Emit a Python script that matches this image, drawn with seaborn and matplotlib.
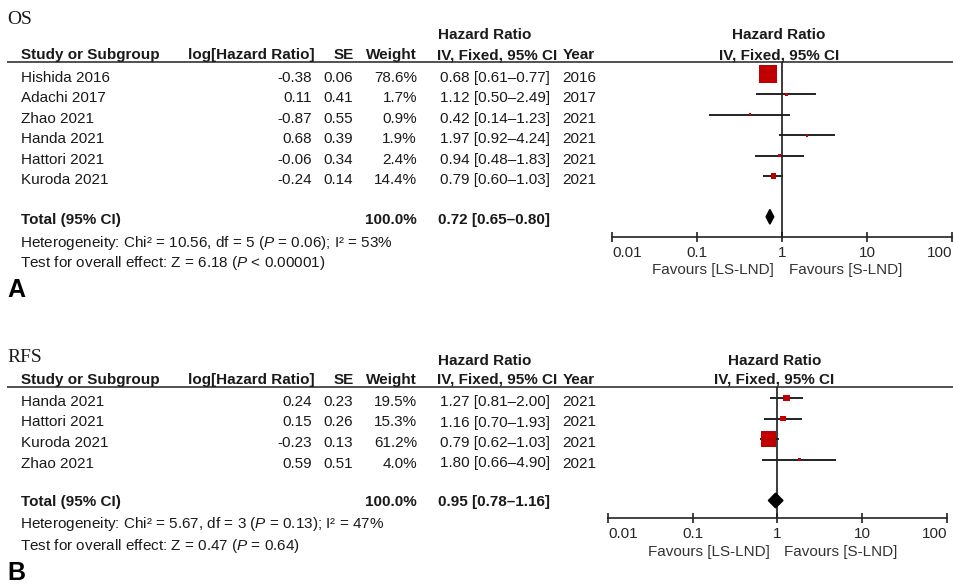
import numpy as np
import matplotlib
matplotlib.use('Agg')
import matplotlib.pyplot as plt
import seaborn as sns

# OS panel data
os_study = ['Hishida 2016', 'Adachi 2017', 'Zhao 2021', 'Handa 2021', 'Hattori 2021', 'Kuroda 2021']
os_loghr = [-0.38, 0.11, -0.87, 0.68, -0.06, -0.24]
os_se = [0.06, 0.41, 0.55, 0.39, 0.34, 0.14]
os_weight = [78.6, 1.7, 0.9, 1.9, 2.4, 14.4]
os_hr = [0.68, 1.12, 0.42, 1.97, 0.94, 0.79]
os_lo = [0.61, 0.50, 0.14, 0.92, 0.48, 0.60]
os_hi = [0.77, 2.49, 1.23, 4.24, 1.83, 1.03]
os_year = [2016, 2017, 2021, 2021, 2021, 2021]
os_total = [0.72, 0.65, 0.80]
os_total_weight = 100.0
os_het = r'Heterogeneity: Chi² = 10.56, df = 5 ($P$ = 0.06); I² = 53%'
os_test = r'Test for overall effect: Z = 6.18 ($P$ < 0.00001)'

# RFS panel data
rfs_study = ['Handa 2021', 'Hattori 2021', 'Kuroda 2021', 'Zhao 2021']
rfs_loghr = [0.24, 0.15, -0.23, 0.59]
rfs_se = [0.23, 0.26, 0.13, 0.51]
rfs_weight = [19.5, 15.3, 61.2, 4.0]
rfs_hr = [1.27, 1.16, 0.79, 1.80]
rfs_lo = [0.81, 0.70, 0.62, 0.66]
rfs_hi = [2.00, 1.93, 1.03, 4.90]
rfs_year = [2021, 2021, 2021, 2021]
rfs_total = [0.95, 0.78, 1.16]
rfs_total_weight = 100.0
rfs_het = r'Heterogeneity: Chi² = 5.67, df = 3 ($P$ = 0.13); I² = 47%'
rfs_test = r'Test for overall effect: Z = 0.47 ($P$ = 0.64)'

x_ticks = [0.01, 0.1, 1, 10, 100]
x_ticklabels = ['0.01', '0.1', '1', '10', '100']

sns.set_style('white')
plt.rcParams['font.family'] = ['Liberation Sans', 'DejaVu Sans']
plt.rcParams['mathtext.fontset'] = 'custom'
plt.rcParams['mathtext.rm'] = 'Liberation Sans'
plt.rcParams['mathtext.it'] = 'Liberation Sans:italic'

W, H = 954, 586
TXT = '#1a1a1a'
fig = plt.figure(figsize=(W / 100, H / 100), dpi=100)
canvas = fig.add_axes([0, 0, 1, 1])
canvas.set_xlim(0, W)
canvas.set_ylim(H, 0)
canvas.axis('off')


def draw_panel(title, letter, study, loghr, se, weight, hr, lo, hi, year,
               total, total_weight, het, test, lay):
    fs = 11
    # titles and headers
    canvas.text(7, lay['title'], title, family='Liberation Serif', fontsize=14,
                va='center', color=TXT)
    canvas.text(438, lay['h1'], 'Hazard Ratio', fontsize=fs, fontweight='bold',
                va='center', color=TXT)
    canvas.text(21, lay['h2'], 'Study or Subgroup', fontsize=fs, fontweight='bold', va='center', color=TXT)
    canvas.text(315, lay['h2'], 'log[Hazard Ratio]', fontsize=fs, fontweight='bold', va='center', ha='right', color=TXT)
    canvas.text(354, lay['h2'], 'SE', fontsize=fs, fontweight='bold', va='center', ha='right', color=TXT)
    canvas.text(417, lay['h2'], 'Weight', fontsize=fs, fontweight='bold', va='center', ha='right', color=TXT)
    canvas.text(437, lay['h2'], 'IV, Fixed, 95% CI', fontsize=fs, fontweight='bold', va='center', color=TXT)
    canvas.text(563, lay['h2'], 'Year', fontsize=fs, fontweight='bold', va='center', color=TXT)
    canvas.hlines(lay['line'], 7, W, color='#333333', lw=1.2)

    # study rows
    for i in range(len(study)):
        y = lay['row0'] + 4 + i * lay['step']
        canvas.text(21, y, study[i], fontsize=fs, va='center', color=TXT)
        canvas.text(312, y, f'{loghr[i]:.2f}', fontsize=fs, va='center', ha='right', color=TXT)
        canvas.text(353, y, f'{se[i]:.2f}', fontsize=fs, va='center', ha='right', color=TXT)
        canvas.text(417, y, f'{weight[i]:.1f}%', fontsize=fs, va='center', ha='right', color=TXT)
        canvas.text(440, y, f'{hr[i]:.2f} [{lo[i]:.2f}–{hi[i]:.2f}]', fontsize=fs, va='center', color=TXT)
        canvas.text(562, y, str(year[i]), fontsize=fs, va='center', color=TXT)

    # totals and tests
    canvas.text(21, lay['total'], 'Total (95% CI)', fontsize=fs, fontweight='bold', va='center', color=TXT)
    canvas.text(417, lay['total'], f'{total_weight:.1f}%', fontsize=fs, fontweight='bold', va='center',
                ha='right', color=TXT)
    canvas.text(438, lay['total'], f'{total[0]:.2f} [{total[1]:.2f}–{total[2]:.2f}]', fontsize=fs,
                fontweight='bold', va='center', color=TXT)
    canvas.text(20, lay['het'], het, fontsize=fs, va='center', color=TXT)
    canvas.text(20, lay['test'], test, fontsize=fs, va='center', color=TXT)
    canvas.text(7, lay['letter'], letter, fontsize=18, fontweight='bold', va='center', color='black')

    # forest plot
    x0, x1, ya, yl = lay['x0'], lay['x1'], lay['axis'], lay['line']
    ax = fig.add_axes([x0 / W, 1 - ya / H, (x1 - x0) / W, (ya - yl) / H])
    ax.patch.set_alpha(0)
    ax.set_xscale('log')
    ax.set_xlim(0.01, 100)
    ax.set_ylim((ya - lay['row0']) / lay['step'], (yl - lay['row0']) / lay['step'])
    rows = np.arange(len(study))
    ax.hlines(rows, lo, hi, color='#222222', lw=1.4, zorder=2)
    side_px = np.maximum(0.85 * np.array(weight) ** 0.7, 2.8)
    sns.scatterplot(x=hr, y=rows, s=(side_px * 0.72) ** 2, marker='s', color='#c00000',
                    edgecolor='none', linewidth=0, legend=False, ax=ax, zorder=3)
    yt = len(study) + 1
    h = 0.36
    ax.fill([total[1], total[0], total[2], total[0]], [yt, yt - h, yt, yt + h],
            color='black', zorder=3)
    ax.axvline(1, color='#1a1a1a', lw=1.2, zorder=1)

    for s in ['top', 'left', 'right']:
        ax.spines[s].set_visible(False)
    ax.spines['bottom'].set_color('#222222')
    ax.spines['bottom'].set_linewidth(1.2)
    ax.set_yticks([])
    ax.set_xticks(x_ticks)
    ax.set_xticklabels(x_ticklabels)
    ax.minorticks_off()
    ax.tick_params(axis='x', direction='inout', length=7.5, width=1.2, color='#222222',
                   labelsize=fs, labelcolor='#262626', pad=3, bottom=True)
    labels = ax.get_xticklabels()
    labels[0].set_ha('left')
    labels[-1].set_ha('right')
    for t in ax.get_xticklines():
        t.set_clip_on(False)
    ax.set_xlabel('')
    ax.set_ylabel('')

    # favours labels and right-hand header
    ax.annotate('Favours [LS-LND]', xy=(1, 0), xycoords=('data', 'axes fraction'),
                xytext=(-8, -lay['fav']), textcoords='offset pixels', ha='right', va='center',
                fontsize=fs, color='#333333')
    ax.annotate('Favours [S-LND]', xy=(1, 0), xycoords=('data', 'axes fraction'),
                xytext=(7, -lay['fav']), textcoords='offset pixels', ha='left', va='center',
                fontsize=fs, color='#333333')
    ax.annotate('Hazard Ratio', xy=(1, 1), xycoords=('data', 'axes fraction'),
                xytext=(-3, lay['line'] - lay['h1']), textcoords='offset pixels', ha='center',
                va='center', fontsize=fs, fontweight='bold', color=TXT, annotation_clip=False)
    ax.annotate('IV, Fixed, 95% CI', xy=(1, 1), xycoords=('data', 'axes fraction'),
                xytext=(-3, lay['line'] - lay['h2']), textcoords='offset pixels', ha='center',
                va='center', fontsize=fs, fontweight='bold', color=TXT, annotation_clip=False)


lay_a = dict(title=20, h1=35, h2=55, line=62, row0=74, step=20.4, total=220, het=243,
             test=263, letter=290, x0=612, x1=952, axis=237, fav=33)
lay_b = dict(title=358, h1=361, h2=380, line=387, row0=398, step=20.5, total=502, het=524,
             test=546, letter=573, x0=608, x1=947, axis=518, fav=34)

draw_panel('OS', 'A', os_study, os_loghr, os_se, os_weight, os_hr, os_lo, os_hi, os_year,
           os_total, os_total_weight, os_het, os_test, lay_a)
draw_panel('RFS', 'B', rfs_study, rfs_loghr, rfs_se, rfs_weight, rfs_hr, rfs_lo, rfs_hi, rfs_year,
           rfs_total, rfs_total_weight, rfs_het, rfs_test, lay_b)

fig.savefig('out.png', dpi=100, facecolor='white')
